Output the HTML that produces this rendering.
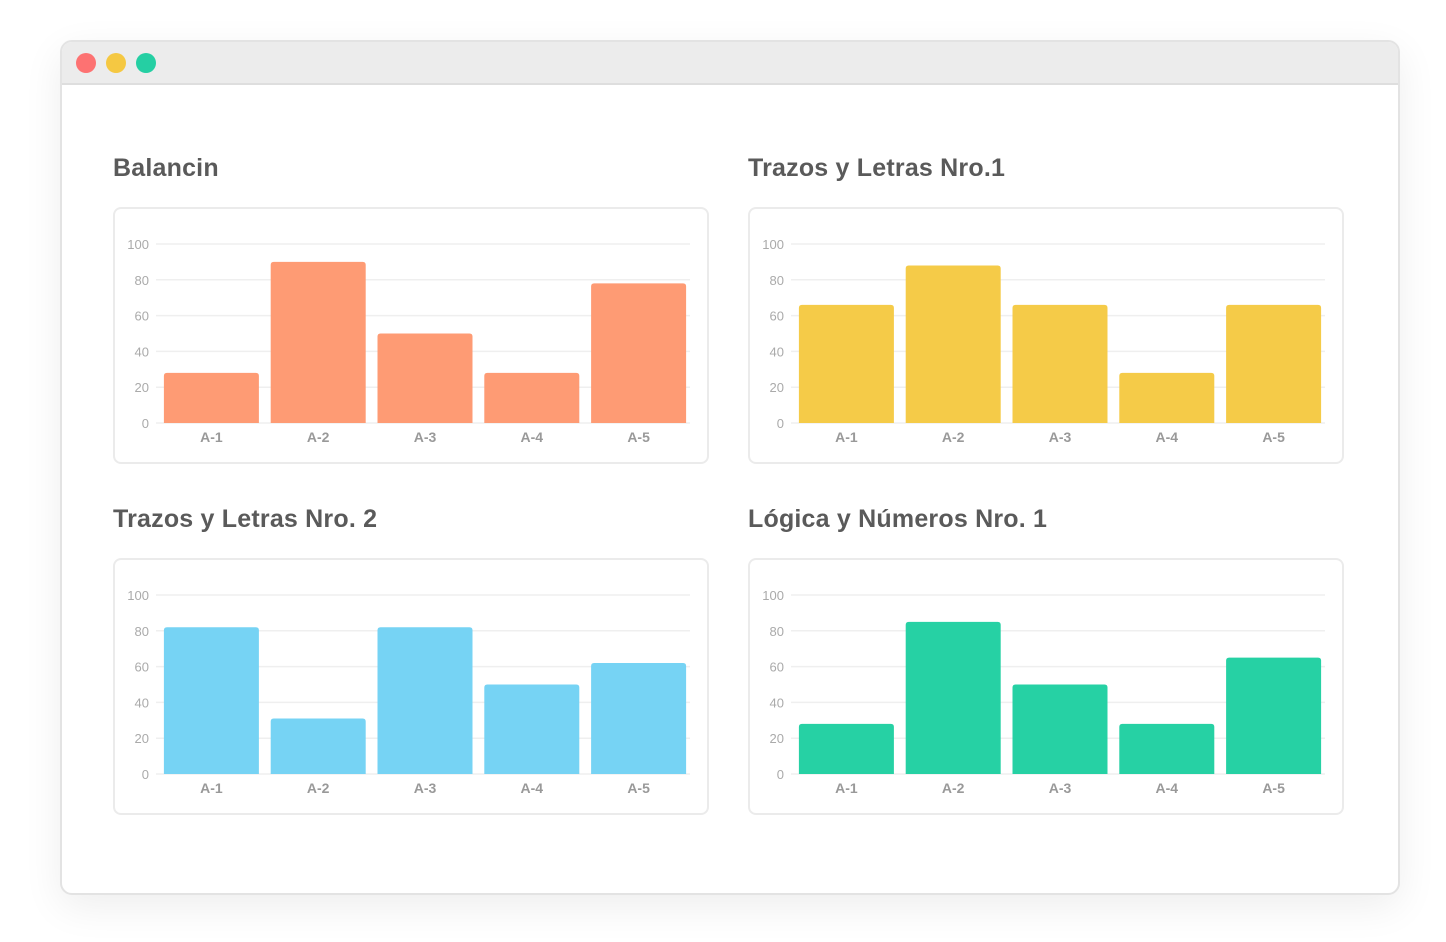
<!DOCTYPE html>
<html><head><meta charset="utf-8"><style>
html,body{margin:0;padding:0;width:1446px;height:942px;background:#fff;overflow:hidden;font-family:"Liberation Sans",sans-serif}
.win{position:absolute;left:60px;top:40px;width:1336px;height:851px;border:2px solid #e3e3e3;border-radius:12px;background:#fff;box-shadow:0 12px 40px rgba(0,0,0,0.07);overflow:hidden}
.bar{position:absolute;left:0;top:0;width:100%;height:41px;background:#ececec;border-bottom:2px solid #dedede}
.dot{position:absolute;top:11px;width:20px;height:20px;border-radius:50%}
.title{position:absolute;font-size:25px;color:#5a5a5a;font-weight:bold;letter-spacing:0.2px}
.card{position:absolute;width:592px;height:253px;border:2px solid #ebebeb;border-radius:8px;background:#fff}
svg text{font-family:"Liberation Sans",sans-serif}
</style></head><body>
<div class="win">
 <div class="bar">
  <div class="dot" style="left:14px;background:#fd7272"></div>
  <div class="dot" style="left:44px;background:#f5c842"></div>
  <div class="dot" style="left:74px;background:#25cfa3"></div>
 </div>
</div>
<div class="title" style="left:113px;top:154px">Balancin</div>
<div class="title" style="left:748px;top:154px">Trazos y Letras Nro.1</div>
<div class="title" style="left:113px;top:505px">Trazos y Letras Nro. 2</div>
<div class="title" style="left:748px;top:505px">Lógica y Números Nro. 1</div>
<div class="card" id="c1" style="left:113px;top:207px"></div>
<div class="card" id="c2" style="left:748px;top:207px"></div>
<div class="card" id="c3" style="left:113px;top:558px"></div>
<div class="card" id="c4" style="left:748px;top:558px"></div>
<script>
const categories = ["A-1","A-2","A-3","A-4","A-5"];
const yTicks = [0,20,40,60,80,100];
const balancinValues = [28,90,50,28,78];
const trazos1Values = [66,88,66,28,66];
const trazos2Values = [82,31,82,50,62];
const logicaValues = [28,85,50,28,65];
const NS="http://www.w3.org/2000/svg";
function mk(t,a){const e=document.createElementNS(NS,t);for(const k in a)e.setAttribute(k,a[k]);return e;}
function draw(id,vals,color){
  const svg=mk("svg",{width:592,height:253});
  
  
  const x0=41,x1=575,yTop=35,yBot=214;
  const y=v=>yBot-(v/100)*(yBot-yTop);
  const band=(x1-x0)/categories.length;
  yTicks.forEach(t=>{
    const l=mk("line",{x1:x0,x2:x1,y1:y(t),y2:y(t),stroke:"#efefef","stroke-width":1.5});
    
    
    svg.appendChild(l);
    const tx=mk("text",{x:34,y:y(t)+5,"text-anchor":"end","font-size":13,fill:"#aaa"});
    tx.textContent=t;
    
    
    svg.appendChild(tx);
  });
  vals.forEach((v,i)=>{
    const bx=x0+band*i+(band-95)/2+2;
    const r=mk("path",{d:`M${bx},${yBot} V${y(v)+3} Q${bx},${y(v)} ${bx+3},${y(v)} H${bx+92} Q${bx+95},${y(v)} ${bx+95},${y(v)+3} V${yBot} Z`,fill:color});
    
    
    svg.appendChild(r);
    const tx=mk("text",{x:bx+47.5,y:233,"text-anchor":"middle","font-size":14,fill:"#999","font-weight":"bold"});
    tx.textContent=categories[i];
    
    
    svg.appendChild(tx);
  });
  document.getElementById(id).appendChild(svg);
}
draw("c1",balancinValues,"#fe9b74");
draw("c2",trazos1Values,"#f5cb48");
draw("c3",trazos2Values,"#76d3f4");
draw("c4",logicaValues,"#26d1a4");
</script>
</body></html>
